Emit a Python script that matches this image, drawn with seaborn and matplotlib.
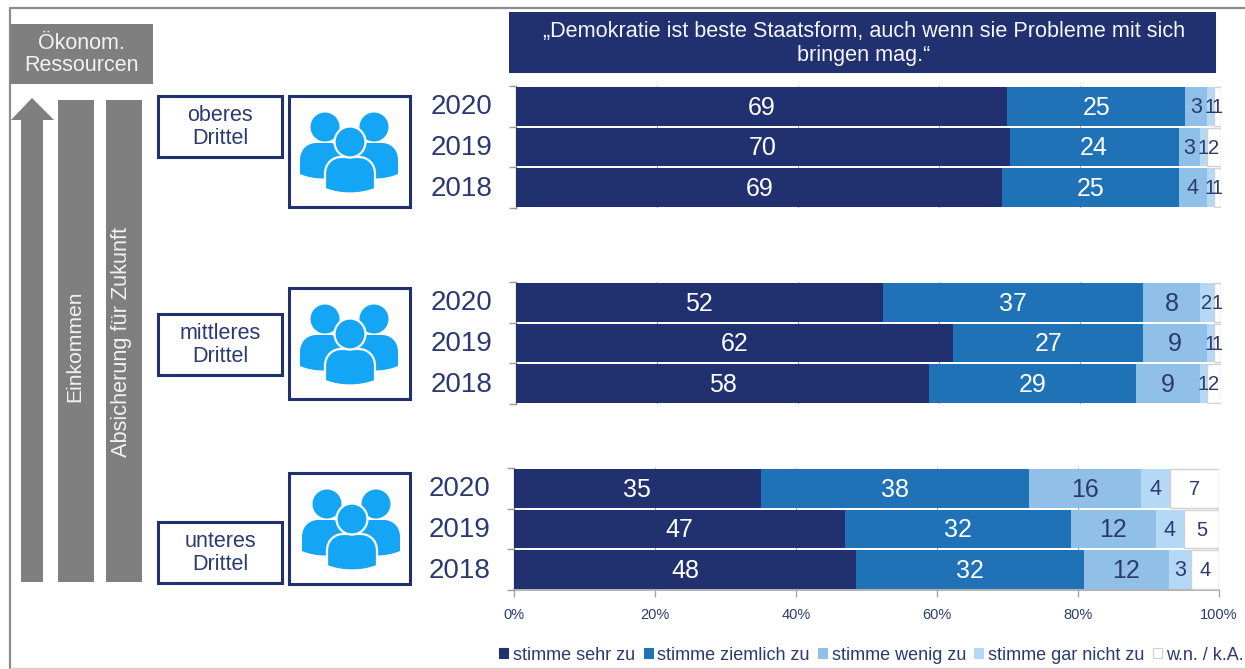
import matplotlib
matplotlib.use("Agg")
import matplotlib.pyplot as plt
import numpy as np
import pandas as pd
import seaborn as sns
from matplotlib.patches import Circle, PathPatch, Polygon, Rectangle
from matplotlib.path import Path
from matplotlib.transforms import ScaledTranslation

# Survey answers, one row per year (2020, 2019, 2018), one column per answer
years = ["2020", "2019", "2018"]
answers = ["stimme sehr zu", "stimme ziemlich zu", "stimme wenig zu",
           "stimme gar nicht zu", "w.n. / k.A."]
upper_third = [[69, 25, 3, 1, 1], [70, 24, 3, 1, 2], [69, 25, 4, 1, 1]]
middle_third = [[52, 37, 8, 2, 1], [62, 27, 9, 1, 1], [58, 29, 9, 1, 2]]
lower_third = [[35, 38, 16, 4, 7], [47, 32, 12, 4, 5], [48, 32, 12, 3, 4]]
group_names = ["oberes\nDrittel", "mittleres\nDrittel", "unteres\nDrittel"]
title_text = "„Demokratie ist beste Staatsform, auch wenn sie Probleme mit sich\nbringen mag.“"

NAVY = "#213170"
TEXT = "#2B3A70"
GREY = "#7F7F7F"
ICON = "#14A5F5"
colors = [NAVY, "#1F72B5", "#90C0E8", "#B5D9F5", "#FFFFFF"]

W, H = 1245, 669
sns.set_theme(style="white")
plt.rcParams["font.family"] = ["Liberation Sans", "DejaVu Sans"]
fig = plt.figure(figsize=(W / 100, H / 100), dpi=100, facecolor="white")

# Full-figure layer in pixel units for the frame, boxes and icons
bg = fig.add_axes([0, 0, 1, 1], zorder=0)
bg.set_xlim(0, W)
bg.set_ylim(H, 0)
bg.axis("off")


def rect(x0, y0, x1, y1, face, edge="none", lw=0, z=2):
    bg.add_patch(Rectangle((x0, y0), x1 - x0, y1 - y0, facecolor=face,
                           edgecolor=edge, linewidth=lw, zorder=z))


def person(cx, head_x, top, half, bottom, head_y, head_r, outline):
    M, L, C = Path.MOVETO, Path.LINETO, Path.CURVE4
    verts = [(cx - half, bottom - 5), (cx - half, top + 17),
             (cx - half, top + 5), (cx - half + 9, top), (cx - half + 16, top),
             (cx + half - 16, top),
             (cx + half - 9, top), (cx + half, top + 5), (cx + half, top + 17),
             (cx + half, bottom - 5),
             (cx + half * 0.4, bottom + 1), (cx - half * 0.4, bottom + 1), (cx - half, bottom - 5)]
    codes = [M, L, C, C, C, L, C, C, C, L, C, C, C]
    edge = "white" if outline else ICON
    bg.add_patch(PathPatch(Path(verts, codes), facecolor=ICON, edgecolor=edge,
                           linewidth=1.6 if outline else 0, zorder=4 if outline else 3))
    bg.add_patch(Circle((head_x, head_y), head_r, facecolor=ICON, edgecolor=edge,
                        linewidth=1.6 if outline else 0, zorder=4 if outline else 3))


def people_icon(dx, dy):
    person(323 + dx, 325 + dx, 143 + dy, 23, 179 + dy, 127 + dy, 14.5, False)
    person(375 + dx, 374 + dx, 143 + dy, 23, 179 + dy, 127 + dy, 14.5, False)
    person(350 + dx, 350 + dx, 157 + dy, 25, 194 + dy, 142 + dy, 15.5, True)


# Outer frame
bg.plot([9.5, 9.5, W], [H, 7.5, 7.5], color="#8C8C8C", lw=1.6, zorder=1)
bg.plot([9.5, W], [667.5, 667.5], color="#D0D0D0", lw=1, zorder=1)

# Left-hand column: resources header, arrow and the two rotated bars
rect(10, 24, 153, 84, GREY)
bg.text(81.5, 54.5, "Ökonom.\nRessourcen", color="#F2F2F2", fontsize=15.5,
        ha="center", va="center", linespacing=1.1, zorder=3)
bg.add_patch(Polygon([(32, 98), (54, 120), (43, 120), (43, 582), (21, 582), (21, 120), (11, 120)],
                     closed=True, facecolor=GREY, edgecolor="none", zorder=2))
rect(58, 100, 94, 582, GREY)
rect(106, 100, 142, 582, GREY)
bg.text(75, 346, "Einkommen", color="#F2F2F2", fontsize=15.2, rotation=90,
        ha="center", va="center", zorder=3)
bg.text(122, 341.5, "Absicherung für Zukunft", color="#F2F2F2", fontsize=15.7, rotation=90,
        ha="center", va="center", zorder=3)

# Title banner
rect(509, 12, 1216, 73, NAVY)
bg.text(864, 43.5, title_text, color="#F4F6FA", fontsize=15.6, ha="center", va="center",
        linespacing=1.15, zorder=3)


def draw_panel(values, label, label_top, icon_top, plot_left, plot_top, icon_dx, show_axis):
    # Label box and icon box for this income group
    rect(158, label_top, 282, label_top + 61, "white", NAVY, 2.2)
    bg.text(220, label_top + 31.5, label, color=TEXT, fontsize=15.5, ha="center", va="center",
            linespacing=1.17, zorder=3)
    rect(288.5, icon_top, 409.5, icon_top + 111, "white", NAVY, 2.2)
    people_icon(icon_dx, icon_top - 95.5)

    ax = fig.add_axes([plot_left / W, 1 - (plot_top + 122) / H, 705 / W, 122 / H],
                       zorder=2, facecolor="none")
    table = pd.DataFrame(values, index=years, columns=answers)
    shares = table.div(table.sum(axis=1), axis=0) * 100
    starts = shares.cumsum(axis=1).shift(1, axis=1).fillna(0)

    for answer, color in zip(answers, colors):
        part = pd.DataFrame({"year": years, "share": shares[answer].to_numpy()})
        sns.barplot(data=part, y="year", x="share", order=years, color=color, saturation=1,
                    left=starts[answer].to_numpy(), width=0.95, errorbar=None, orient="y",
                    edgecolor="#D0D0D0" if color == "#FFFFFF" else color,
                    linewidth=1 if color == "#FFFFFF" else 0, label=answer, legend=False,
                    ax=ax, zorder=3)

    # Value labels, white on the two dark segments
    for row, year in enumerate(years):
        for col, answer in enumerate(answers):
            v = table.loc[year, answer]
            size = 18 if v >= 8 else (15.5 if v >= 3 else 14.5)
            if col == 4 and v >= 2:
                size = 14.5
            ax.text(starts.loc[year, answer] + shares.loc[year, answer] / 2, row + 0.03, str(v),
                    color="white" if col < 2 else TEXT, fontsize=size, ha="center",
                    va="center", zorder=5)

    ax.set_xlim(0, 100)
    ax.set_ylim(2.5, -0.5)
    ax.set_xlabel("")
    ax.set_ylabel("")
    ax.set_xticks(np.arange(0, 101, 20))
    ax.xaxis.grid(True, color="#A6A6A6", lw=0.8, zorder=0)
    ax.set_axisbelow(True)
    ax.set_yticks([-0.5, 0.5, 1.5, 2.5], minor=True)
    ax.tick_params(axis="y", which="major", length=0, labelsize=20, labelcolor=TEXT, pad=17)
    ax.tick_params(axis="y", which="minor", length=5, width=1, color="#9A9A9A", left=True)
    raise_labels = ScaledTranslation(0, 2 / 100, fig.dpi_scale_trans)
    for tick_label in ax.get_yticklabels():
        tick_label.set_transform(tick_label.get_transform() + raise_labels)
    for side in ["top", "right"]:
        ax.spines[side].set_visible(False)
    ax.spines["left"].set_color("#8C8C8C")
    ax.spines["left"].set_linewidth(1)
    if show_axis:
        ax.spines["bottom"].set_color("#A6A6A6")
        ax.spines["bottom"].set_linewidth(1.2)
        ax.set_xticklabels([f"{t}%" for t in range(0, 101, 20)])
        ax.tick_params(axis="x", length=5, width=1, color="#A6A6A6", bottom=True,
                       labelsize=10.5, labelcolor=TEXT, pad=8)
    else:
        ax.spines["bottom"].set_visible(False)
        ax.tick_params(axis="x", length=0, labelbottom=False)
    return ax


draw_panel(upper_third, group_names[0], 95.5, 95.5, 516, 86, 0, False)
draw_panel(middle_third, group_names[1], 313.5, 287.5, 516, 282, 0, False)
low_ax = draw_panel(lower_third, group_names[2], 521.5, 472.5, 514, 468, 2, True)

# Legend along the bottom edge
handles = [Rectangle((0, 0), 1, 1, facecolor=c, edgecolor="#D0D0D0" if c == "#FFFFFF" else c, lw=0.8)
           for c in colors]
fig.legend(handles, answers, ncol=5, loc="center right", bbox_to_anchor=(1244 / W, 1 - 655 / H),
           frameon=False, fontsize=13, labelcolor=TEXT, handlelength=0.5, handleheight=0.5,
           handletextpad=0.25, columnspacing=0.47, borderpad=0, borderaxespad=0)

fig.savefig("out.png", dpi=100, facecolor="white")
